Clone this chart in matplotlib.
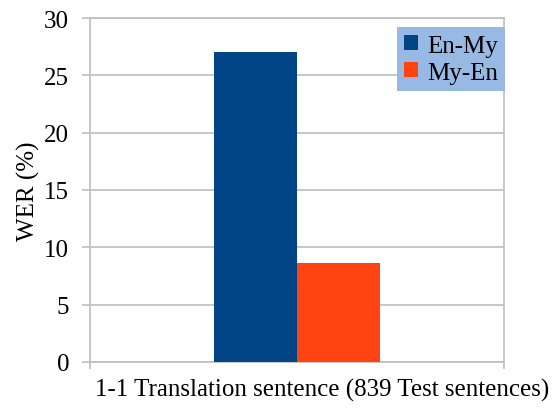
import numpy as np
import matplotlib.pyplot as plt

categories = ['1-1 Translation sentence (839 Test sentences)']
series = ['En-My', 'My-En']
wer_en_my = [27.0]
wer_my_en = [8.65]
colors = ['#024587', '#FF4412']

plt.rcParams['font.family'] = ['Liberation Serif', 'DejaVu Serif']

fig = plt.figure(figsize=(5.57, 4.14), dpi=100)
ax = fig.add_axes([90/557, 1 - 363/414, 414/557, 344/414])

x = np.arange(len(categories))
w = 0.2
ax.bar(x - w/2, wer_en_my, w, color=colors[0], label=series[0], zorder=3)
ax.bar(x + w/2, wer_my_en, w, color=colors[1], label=series[1], zorder=3)

ax.set_xlim(-0.5, 0.5)
ax.set_ylim(0, 30)
ax.set_yticks(np.arange(0, 31, 5))
ax.yaxis.grid(True, color='#BEBEBE', linewidth=1.2, zorder=0)
for s in ax.spines.values():
    s.set_color('#BEBEBE')
    s.set_linewidth(1.2)

ax.set_xticks([-0.5, 0.5])
ax.set_xticklabels(['', ''])
ax.tick_params(axis='x', length=5, color='#BEBEBE', width=1.2)
ax.tick_params(axis='y', length=6, color='#BEBEBE', width=1.2, labelsize=18, pad=9)

# category label sits a bit right of centre, like the original
fig.text(322/557, 1 - 390/414, categories[0], ha='center', va='center', fontsize=18)

ax.set_ylabel('WER (%)', fontsize=18, labelpad=3)

leg = ax.legend(loc='upper right', bbox_to_anchor=(1.003, 0.973), fontsize=18,
                frameon=True, fancybox=False, handlelength=0.55, handleheight=0.55,
                handletextpad=0.35, borderpad=0.3, labelspacing=0.2, borderaxespad=0)
leg.get_frame().set_facecolor('#97B9E3')
leg.get_frame().set_edgecolor('none')
leg.get_frame().set_alpha(1)

fig.savefig('out.png', dpi=100)
